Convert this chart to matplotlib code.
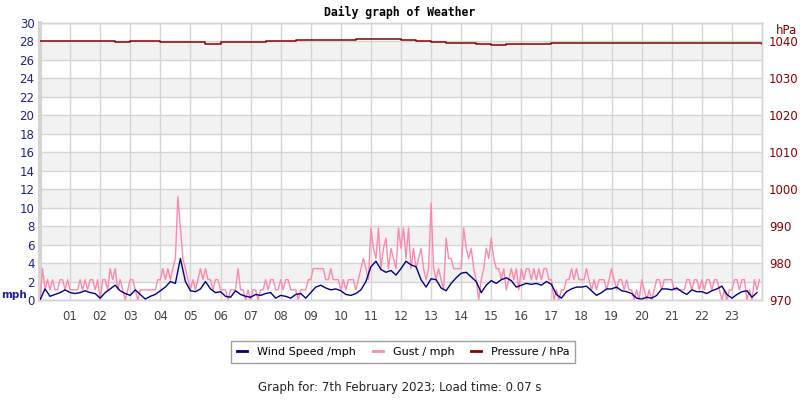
import numpy as np
import matplotlib
matplotlib.use("Agg")
import matplotlib.pyplot as plt
from matplotlib.lines import Line2D

# wind speed, mph, every 10 minutes from 00:00
wind_speed = [
    0.0, 1.2, 0.4, 0.6, 0.8, 1.1,
    0.8, 0.7, 0.8, 1.0, 0.8, 0.7,
    0.2, 0.8, 1.2, 1.6, 1.0, 0.7,
    0.5, 1.1, 0.6, 0.1, 0.4, 0.6,
    1.0, 1.4, 2.0, 1.8, 4.5, 2.0,
    1.0, 0.9, 1.2, 2.0, 1.2, 0.8,
    0.9, 0.4, 0.3, 1.0, 0.6, 0.4,
    0.3, 0.6, 0.5, 0.7, 0.8, 0.2,
    0.5, 0.4, 0.2, 0.6, 0.7, 0.2,
    0.8, 1.4, 1.6, 1.3, 1.1, 1.2,
    1.0, 0.6, 0.5, 0.7, 1.1, 2.0,
    3.6, 4.2, 3.3, 3.0, 3.2, 2.7,
    3.4, 4.2, 3.8, 3.6, 2.2, 1.4,
    2.3, 2.2, 1.3, 1.0, 1.8, 2.4,
    2.9, 3.0, 2.5, 2.0, 0.8, 1.6,
    2.1, 1.8, 2.2, 2.4, 2.1, 1.4,
    1.6, 1.8, 1.7, 1.8, 1.6, 2.0,
    1.7, 0.6, 0.2, 0.9, 1.2, 1.4,
    1.4, 1.5, 1.0, 0.5, 0.8, 1.2,
    1.2, 1.4, 1.0, 0.9, 0.7, 0.2,
    0.1, 0.3, 0.2, 0.5, 1.2, 1.2,
    1.1, 1.3, 0.9, 0.6, 1.1, 0.9,
    0.9, 0.7, 1.0, 1.2, 1.5, 0.6,
    0.2, 0.6, 0.9, 1.0, 0.3, 0.8,
]

# gust, mph, every 5 minutes from 00:00
gust = [
    0.0, 3.4, 1.1, 2.2, 1.1, 2.2, 1.1, 1.1, 2.2, 2.2, 1.1, 2.2,
    1.1, 1.1, 1.1, 1.1, 2.2, 1.1, 2.2, 1.1, 2.2, 2.2, 1.1, 2.2,
    0.0, 2.2, 2.2, 1.1, 3.4, 2.2, 3.4, 1.1, 2.2, 1.1, 0.0, 1.1,
    2.2, 2.2, 1.1, 0.0, 1.1, 1.1, 1.1, 1.1, 1.1, 1.1, 1.1, 2.2,
    2.2, 3.4, 2.2, 3.4, 2.2, 3.4, 4.5, 11.2, 7.8, 4.5, 3.4, 2.2,
    1.1, 2.2, 1.1, 2.2, 3.4, 2.2, 3.4, 2.2, 2.2, 1.1, 2.2, 2.2,
    1.1, 1.1, 1.1, 0.0, 1.1, 1.1, 1.1, 3.4, 1.1, 1.1, 0.0, 1.1,
    0.0, 1.1, 1.1, 0.0, 1.1, 1.1, 2.2, 1.1, 2.2, 2.2, 1.1, 1.1,
    2.2, 1.1, 2.2, 2.2, 1.1, 1.1, 1.1, 0.0, 1.1, 1.1, 1.1, 2.2,
    2.2, 3.4, 3.4, 3.4, 3.4, 3.4, 2.2, 2.2, 3.4, 2.2, 2.2, 2.2,
    1.1, 2.2, 1.1, 2.2, 2.2, 2.2, 1.1, 2.2, 3.4, 4.5, 3.4, 2.2,
    7.8, 5.6, 4.5, 7.8, 3.4, 5.6, 6.7, 3.4, 5.6, 4.5, 3.4, 7.8,
    5.6, 7.8, 4.5, 7.8, 3.4, 5.6, 3.4, 4.5, 5.6, 3.4, 2.2, 3.4,
    10.5, 3.4, 2.2, 3.4, 2.2, 1.1, 6.7, 4.5, 4.5, 3.4, 3.4, 3.4,
    3.4, 7.8, 5.6, 4.5, 5.6, 3.4, 2.2, 0.0, 2.2, 3.4, 5.6, 4.5,
    6.7, 4.5, 3.4, 3.4, 2.2, 3.4, 1.1, 2.2, 3.4, 2.2, 3.4, 1.1,
    3.4, 2.2, 3.4, 3.4, 2.2, 3.4, 2.2, 3.4, 2.2, 3.4, 3.4, 2.2,
    2.2, 0.0, 1.1, 0.0, 1.1, 1.1, 2.2, 2.2, 3.4, 2.2, 3.4, 2.2,
    2.2, 2.2, 3.4, 2.2, 1.1, 2.2, 1.1, 2.2, 2.2, 2.2, 1.1, 2.2,
    3.4, 2.2, 1.1, 2.2, 2.2, 1.1, 2.2, 1.1, 1.1, 0.0, 1.1, 0.0,
    2.2, 1.1, 0.0, 1.1, 0.0, 1.1, 2.2, 2.2, 1.1, 2.2, 2.2, 2.2,
    2.2, 1.1, 1.1, 1.1, 1.1, 1.1, 2.2, 2.2, 1.1, 2.2, 2.2, 1.1,
    2.2, 1.1, 2.2, 2.2, 1.1, 2.2, 2.2, 1.1, 0.0, 1.1, 0.0, 1.1,
    1.1, 2.2, 2.2, 1.1, 2.2, 2.2, 0.0, 1.1, 0.0, 2.2, 1.1, 2.2,
]

# pressure, hPa, every 30 minutes from 00:00 (last one at 24:00)
pressure = [
    1040.2, 1040.2, 1040.0, 1040.0, 1040.0, 1039.95, 1040.0, 1040.0,
    1039.8, 1039.8, 1039.8, 1039.4, 1039.8, 1039.8, 1039.9, 1040.0,
    1040.2, 1040.3, 1040.4, 1040.4, 1040.5, 1040.7, 1040.75, 1040.6,
    1040.4, 1040.2, 1039.9, 1039.7, 1039.5, 1039.2, 1039.1, 1039.2,
    1039.3, 1039.4, 1039.6, 1039.7, 1039.7, 1039.7, 1039.7, 1039.6,
    1039.6, 1039.7, 1039.7, 1039.7, 1039.7, 1039.6, 1039.6, 1039.5,
    1039.2,
]

hour_labels = ["%02d" % h for h in range(1, 24)]
mph_ticks = list(range(0, 31, 2))
hpa_ticks = list(range(970, 1041, 10))

wind_col = "#000080"
gust_col = "#ff88aa"
pres_col = "#8b0000"
left_txt = "#1f1f8f"

t_wind = np.arange(len(wind_speed)) * 10 / 60
t_gust = np.arange(len(gust)) * 5 / 60
t_pres = np.arange(len(pressure)) * 30 / 60

fig = plt.figure(figsize=(8, 4), dpi=100)
ax = fig.add_axes([0.05, 0.25, 0.9025, 0.6925])
ax2 = ax.twinx()

# background bands
for lo in range(2, 30, 4):
    ax.axhspan(lo, lo + 2, color="#f2f2f2", zorder=0, lw=0)

ax.set_xlim(0, 24)
ax.set_ylim(0, 30)
ax2.set_ylim(970, 1045)

ax.set_xticks(range(1, 24))
ax.set_xticklabels(hour_labels)
ax.set_yticks(mph_ticks)
ax2.set_yticks(hpa_ticks)
ax.grid(True, color="#d4d4d4", lw=1, zorder=1)
ax.set_axisbelow(True)

ax.tick_params(axis="x", length=0, pad=7, labelsize=8.5, colors="#444444")
ax.tick_params(axis="y", length=0, pad=4, labelsize=8.5, labelcolor=left_txt)
ax2.tick_params(axis="y", length=0, pad=5, labelsize=8.5, labelcolor=pres_col)

for a in (ax, ax2):
    for s in a.spines.values():
        s.set_color("#d4d4d4")
        s.set_linewidth(1)
ax.spines["left"].set_linewidth(3)
ax2.spines["left"].set_visible(False)

ax.plot(t_gust, gust, color=gust_col, lw=1.0, zorder=3)
ax.plot(t_wind, wind_speed, color=wind_col, lw=1.0, zorder=4)
ax2.step(t_pres, pressure, where="post", color=pres_col, lw=1.1)

fig.text(0.5, 0.97, "Daily graph of Weather", ha="center", va="center",
         family="DejaVu Sans Mono", weight="bold", fontsize=8.3)
fig.text(0.001, 0.263, "mph", ha="left", va="center", color=left_txt,
         weight="bold", fontsize=7.5)
fig.text(0.97, 0.925, "hPa", ha="left", va="center", color=pres_col, fontsize=8.5)

handles = [Line2D([], [], color=wind_col, lw=2),
           Line2D([], [], color=gust_col, lw=2),
           Line2D([], [], color=pres_col, lw=2)]
names = ["Wind Speed /mph", "Gust / mph", "Pressure / hPa"]
leg = fig.legend(handles, names, loc="center", bbox_to_anchor=(0.504, 0.12),
                 ncol=3, fontsize=8, frameon=True, fancybox=False,
                 handlelength=0.9, handletextpad=0.9, columnspacing=1.5,
                 borderpad=0.5, borderaxespad=0)
leg.get_frame().set_edgecolor("#888888")
leg.get_frame().set_linewidth(1)

fig.text(0.5, 0.03, "Graph for: 7th February 2023; Load time: 0.07 s",
         ha="center", va="center", fontsize=8.5, color="#222222")

fig.savefig("out.png", dpi=100)
